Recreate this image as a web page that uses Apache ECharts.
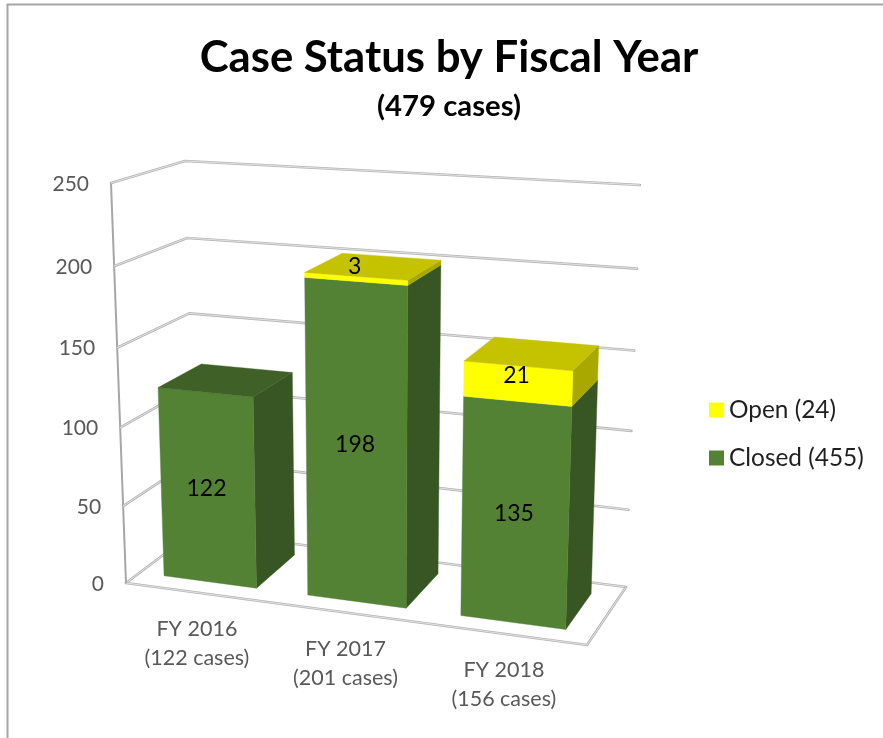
<!DOCTYPE html>
<html>
<head>
<meta charset="utf-8">
<style>html,body{margin:0;padding:0;background:#fff}#c{width:883px;height:738px}</style>
<script src="https://cdn.jsdelivr.net/npm/echarts@6/dist/echarts.min.js"></script>
</head>
<body>
<div id="c"></div>
<script>
const categories = ['FY 2016\n(122 cases)', 'FY 2017\n(201 cases)', 'FY 2018\n(156 cases)'];
const closedValues = [122, 198, 135];
const openValues = [0, 3, 21];
const yTicks = [0, 50, 100, 150, 200, 250];
const closedName = 'Closed (455)';
const openName = 'Open (24)';
const titleText = 'Case Status by Fiscal Year';
const subtitleText = '(479 cases)';

const FONT = 'Lato, "Open Sans", sans-serif';
// 3D box corners used by the projection: [front, back] planes
const BOX = {
  fBL: [126, 583], fBR: [587, 645], fTL: [111, 183], fTR: [600, 215],
  bBL: [195, 531], bBR: [626, 587], bTL: [185, 161], bTR: [640, 185]
};
const KU = 1.1, KV = 1.05, BAR_FRONT = 0.2, BAR_BACK = 0.82, BAR_WIDTH = 0.65;
const lerp = (a, b, t) => [a[0] + (b[0] - a[0]) * t, a[1] + (b[1] - a[1]) * t];

function project(cs, gx, gy, d) {
  const u = (gx - cs.x) / cs.width;
  const v = (cs.y + cs.height - gy) / cs.height;
  const uw = u / (u + KU * (1 - u));
  const vw = v / (v + KV * (1 - v));
  const fb = lerp(BOX.fBL, BOX.fBR, uw), ft = lerp(BOX.fTL, BOX.fTR, uw);
  const bb = lerp(BOX.bBL, BOX.bBR, uw), bt = lerp(BOX.bTL, BOX.bTR, uw);
  return lerp(lerp(fb, ft, vw), lerp(bb, bt, vw), d);
}
function doubleLine(points) {
  return [
    { type: 'polyline', shape: { points }, style: { stroke: '#b5b5b5', lineWidth: 2.6, fill: null, lineJoin: 'round', lineCap: 'round' } },
    { type: 'polyline', shape: { points }, style: { stroke: '#ececec', lineWidth: 0.8, fill: null } }
  ];
}
function renderWall(params, api) {
  const cs = params.coordSys;
  const tick = api.value(1);
  const first = api.coord([0, tick]);
  const gy = first[1];
  const left = cs.x, right = cs.x + cs.width;
  const p = (gx, d) => project(cs, gx, gy, d);
  const children = doubleLine([p(left, 0), p(left, 1), p(right, 1)]);
  const a = p(left, 0);
  if (tick === 0) {
    children.push(...doubleLine([a, p(right, 0), p(right, 1)]));
    children.push({
      type: 'line',
      shape: { x1: a[0], y1: a[1], x2: project(cs, left, cs.y, 0)[0], y2: project(cs, left, cs.y, 0)[1] },
      style: { stroke: '#a6a6a6', lineWidth: 2 }
    });
  }
  children.push({
    type: 'text',
    style: { text: String(tick), x: a[0] - 22, y: a[1] + 1, align: 'right', verticalAlign: 'middle',
      fill: '#595959', fontSize: 21, fontFamily: FONT }
  });
  return { type: 'group', children };
}
function renderCategory(params, api) {
  const cs = params.coordSys;
  const c = api.coord([api.value(0), 0]);
  const p = project(cs, c[0], c[1], 0);
  return { type: 'text', style: { text: categories[params.dataIndex], x: p[0], y: p[1] + 51,
    align: 'center', verticalAlign: 'middle', fill: '#595959', fontSize: 21.5, lineHeight: 29, fontFamily: FONT } };
}
function makeBarRenderer(colors, isOpen) {
  return function (params, api) {
    const cs = params.coordSys;
    const idx = api.value(0), from = api.value(1), to = api.value(2);
    if (to <= from) return null;
    const half = api.size([1, 0])[0] * BAR_WIDTH / 2;
    const cx = api.coord([idx, 0])[0];
    const y0 = api.coord([idx, from])[1], y1 = api.coord([idx, to])[1];
    const P = (gx, gy, d) => project(cs, gx, gy, d);
    const l = cx - half, r = cx + half;
    const poly = (pts, fill) => ({ type: 'polygon', shape: { points: pts }, style: { fill, stroke: fill, lineWidth: 0.4 } });
    const children = [
      poly([P(r, y0, BAR_FRONT), P(r, y0, BAR_BACK), P(r, y1, BAR_BACK), P(r, y1, BAR_FRONT)], colors.side),
      poly([P(l, y0, BAR_FRONT), P(r, y0, BAR_FRONT), P(r, y1, BAR_FRONT), P(l, y1, BAR_FRONT)], colors.front)
    ];
    const topmost = isOpen || !(openValues[params.dataIndex] > 0);
    if (topmost) {
      children.push(poly([P(l, y1, BAR_FRONT), P(r, y1, BAR_FRONT), P(r, y1, BAR_BACK), P(l, y1, BAR_BACK)], colors.top));
    }
    const value = to - from;
    const m = P(cx, (y0 + y1) / 2, BAR_FRONT);
    const lift = isOpen ? 13 - value * 0.25 : 0;
    children.push({ type: 'text', z2: 10, style: { text: String(value), x: m[0] - 1, y: m[1] - lift,
      align: 'center', verticalAlign: 'middle', fill: '#000', fontSize: 23, fontFamily: FONT } });
    return { type: 'group', children };
  };
}

const closedColors = { front: '#548235', top: '#3f6128', side: '#375623' };
const openColors = { front: '#ffff00', top: '#c5c300', side: '#a9a800' };

const chart = echarts.init(document.getElementById('c'), null, { renderer: 'canvas' });
chart.setOption({
  animation: false,
  backgroundColor: '#ffffff',
  title: {
    text: titleText, subtext: subtitleText, left: 444, top: 27, textAlign: 'center', itemGap: 7,
    textStyle: { fontFamily: FONT, fontSize: 43.7, fontWeight: 'bold', color: '#000', lineHeight: 52 },
    subtextStyle: { fontFamily: FONT, fontSize: 29.3, fontWeight: 'bold', color: '#000', lineHeight: 32 }
  },
  legend: {
    data: [openName, closedName], orient: 'vertical', left: 704, top: 393, itemWidth: 15, itemHeight: 15,
    itemGap: 24, icon: 'rect', selectedMode: false,
    textStyle: { fontFamily: FONT, fontSize: 24.4, color: '#1f1f1f', lineHeight: 24 }
  },
  grid: { left: 126, top: 183, width: 461, height: 400 },
  xAxis: { type: 'category', data: categories, show: false },
  yAxis: { type: 'value', min: 0, max: 250, interval: 50, show: false },
  graphic: [{ type: 'polyline', silent: true, shape: { points: [[7.5, 738], [7.5, 4.5], [883, 4.5]] },
    style: { stroke: '#a6a6a6', lineWidth: 2, fill: null } }],
  series: [
    { type: 'custom', name: 'walls', silent: true, z: 1, renderItem: renderWall, data: yTicks.map(t => [0, t]) },
    { type: 'custom', name: 'categories', silent: true, z: 1, renderItem: renderCategory, data: categories.map((c, i) => [i, 0]) },
    { type: 'custom', name: closedName, z: 2, itemStyle: { color: closedColors.front }, renderItem: makeBarRenderer(closedColors, false),
      data: closedValues.map((v, i) => [i, 0, v]) },
    { type: 'custom', name: openName, z: 3, itemStyle: { color: openColors.front }, renderItem: makeBarRenderer(openColors, true),
      data: openValues.map((v, i) => [i, closedValues[i], closedValues[i] + v]) }
  ]
});
</script>
</body>
</html>
